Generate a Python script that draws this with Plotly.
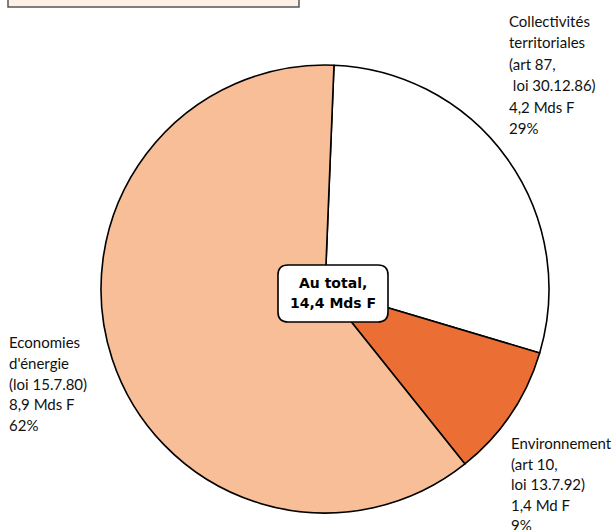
import plotly.graph_objects as go

W, H = 615, 530

# Slice data (clockwise from the top)
categories = ["Collectivités territoriales", "Environnement", "Economies d'énergie"]
amounts = [4.2, 1.4, 8.9]          # Mds F
shares = ["29%", "9%", "62%"]
amount_labels = ["4,2 Mds F", "1,4 Md F", "8,9 Mds F"]
slice_colors = ["#ffffff", "#eb6e34", "#f8be97"]

label_lines = [
    ["Collectivités", "territoriales", "(art 87,", "\u00a0loi 30.12.86)"],
    ["Environnement", "(art 10,", "loi 13.7.92)"],
    ["Economies", "d'énergie", "(loi 15.7.80)"],
]
total_lines = ["Au total,", "14,4 Mds F"]

FONT = "Lato"
BOLD_FONT = "DejaVu Sans"


def px(x):
    return x / W


def py(y):
    return 1 - y / H


# Pie geometry in pixels
cx, cy, r = 325, 289, 224

fig = go.Figure(
    go.Pie(
        labels=categories,
        values=amounts,
        sort=False,
        direction="clockwise",
        rotation=2.3,
        marker=dict(colors=slice_colors, line=dict(color="#000000", width=1.6)),
        textinfo="none",
        hoverinfo="label+value",
        showlegend=False,
        domain=dict(x=[px(cx - r), px(cx + r)], y=[py(cy + r), py(cy - r)]),
    )
)

annotations = []


def add_block(lines, x0, y0, dy):
    for i, t in enumerate(lines):
        annotations.append(
            dict(
                x=px(x0), y=py(y0 + i * dy), xref="paper", yref="paper",
                text=t, showarrow=False, xanchor="left", yanchor="middle",
                font=dict(family=FONT, size=15, color="#111111"),
            )
        )


# Slice labels: name lines, amount, share
add_block(label_lines[0] + [amount_labels[0], shares[0]], 507, 21, 21.4)
add_block(label_lines[1] + [amount_labels[1], shares[1]], 509, 443, 20.6)
add_block(label_lines[2] + [amount_labels[2], shares[2]], 7, 342, 20.8)

# Total in the middle
for i, t in enumerate(total_lines):
    annotations.append(
        dict(
            x=px(333), y=py(283 + i * 20), xref="paper", yref="paper",
            text="<b>" + t + "</b>", showarrow=False, xanchor="center", yanchor="middle",
            font=dict(family=BOLD_FONT, size=14, color="#000000"),
        )
    )


def rounded_rect(x0, y0, x1, y1, rad):
    X0, X1 = px(x0), px(x1)
    Y0, Y1 = py(y0), py(y1)
    rx, ry = rad / W, rad / H
    return (
        f"M {X0 + rx},{Y0} L {X1 - rx},{Y0} Q {X1},{Y0} {X1},{Y0 - ry} "
        f"L {X1},{Y1 + ry} Q {X1},{Y1} {X1 - rx},{Y1} "
        f"L {X0 + rx},{Y1} Q {X0},{Y1} {X0},{Y1 + ry} "
        f"L {X0},{Y0 - ry} Q {X0},{Y0} {X0 + rx},{Y0} Z"
    )


shapes = [
    # header panel cut by the top edge
    dict(type="rect", xref="paper", yref="paper",
         x0=px(8), x1=px(299), y0=py(7), y1=py(-10),
         fillcolor="#fff0e6", line=dict(color="#555555", width=1.5), layer="above"),
    # rounded box holding the total
    dict(type="path", xref="paper", yref="paper",
         path=rounded_rect(278, 265, 388, 322, 10),
         fillcolor="#ffffff", line=dict(color="#000000", width=1.6), layer="above"),
]

fig.update_layout(
    width=W, height=H,
    margin=dict(l=0, r=0, t=0, b=0),
    paper_bgcolor="#ffffff",
    plot_bgcolor="#ffffff",
    annotations=annotations,
    shapes=shapes,
)

fig.write_html("out.html")
